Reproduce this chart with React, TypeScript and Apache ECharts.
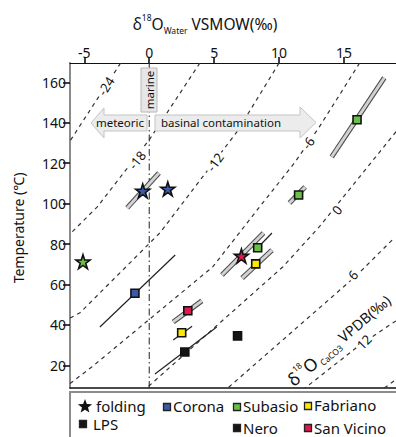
import React, { useEffect, useRef } from 'react';
import * as echarts from 'echarts';

const FONT = "'Noto Sans', sans-serif";

// axes
const xTicks = [-5, 0, 5, 10, 15];
const yTicks = [20, 40, 60, 80, 100, 120, 140, 160];
const xRange = [-6.1, 19.0];
const yRange = [8.8, 169.6];

// d18O calcite (VPDB) isolines: [d18O water, T]
const isoM24 = [[-2.2, 169.6], [-6.1, 131]];
const isoM18 = [[3.9, 169.6], [0, 131.6], [-4.0, 98.4], [-6.1, 85]];
const isoM12 = [[10.0, 169.6], [6.75, 135.5], [2.36, 98.5], [0.83, 85.6], [-5.33, 46], [-6.1, 43.4]];
const isoM6 = [[16.2, 169.6], [13.1, 138], [11.2, 120.3], [8.74, 100.4], [4.9, 68.8], [-4.4, 19.3], [-6.1, 11]];
const iso0 = [[19.0, 135.6], [13.1, 88.6], [10.3, 68.8], [-0.2, 8.8]];
const iso6 = [[18.7, 82], [16.0, 64.7], [6.05, 8.8]];
const iso12 = [[19.0, 42], [16.2, 30], [12.0, 8.8]];
const iso18 = [[18.1, 8.8], [19.0, 13]];
const isoLabels = ['-24', '-18', '-12', '-6', '0', '6', '12'];

const marineLine = [[0, 8.8], [0, 169.6]];

// error ranges (grey bands)
const bandBlueStar = [[-1.7, 97.9], [0.75, 115.2]];
const bandSubasio141 = [[14.05, 123.2], [18.1, 162.3]];
const bandRedStar = [[5.6, 64.7], [8.8, 85.5]];
const bandFabriano70 = [[7.15, 63.2], [9.45, 77.0]];
const bandSanVicino47 = [[1.85, 41.5], [4.05, 51.9]];
const bandSubasio104 = [[10.8, 100.3], [12.0, 108.2]];
// error ranges (thin lines)
const barCorona = [[-3.8, 39], [2.0, 74.6]];
const barFabriano36 = [[1.85, 32.5], [3.3, 39.4]];
const barNero27 = [[0.44, 15.7], [5.2, 39]];
const barSubasio78 = [[8.35, 78.2], [9.45, 85.5]];

// points
const foldingPts = [[-5.1, 71.3], [-0.5, 106.3], [1.43, 107.3], [7.1, 74.1]];
const foldingColors = ['#6abf45', '#3d5aa8', '#3d5aa8', '#e3174f'];
const coronaPts = [[-1.1, 55.7]];
const subasioPts = [[16.0, 141.5], [11.5, 104.3], [8.35, 78.2]];
const fabrianoPts = [[8.2, 70.2], [2.5, 36.1]];
const sanVicinoPts = [[2.97, 47]];
const neroPts = [[2.74, 26.6], [6.8, 34.6]];

const legendNames = ['folding', 'LPS', 'Corona', 'Subasio', 'Fabriano', 'Nero', 'San Vicino'];

const COL = {
  corona: '#3d5aa8',
  subasio: '#6abf45',
  fabriano: '#ffe800',
  sanVicino: '#e3174f',
  nero: '#151515',
};

const STAR = 'path://M50,0 L61.8,35.1 L98.9,35.1 L69.1,56.7 L80.9,91.9 L50,70.3 L19.1,91.9 L30.9,56.7 L1.1,35.1 L38.2,35.1 Z';

function starPoints(cx: number, cy: number, r: number) {
  const pts: number[][] = [];
  for (let i = 0; i < 10; i++) {
    const rr = i % 2 === 0 ? r : r * 0.42;
    const a = -Math.PI / 2 + (i * Math.PI) / 5;
    pts.push([cx + rr * Math.cos(a), cy + rr * Math.sin(a)]);
  }
  return pts;
}

export default function App() {
  const ref = useRef<HTMLDivElement>(null);
  useEffect(() => {
    if (!ref.current) return;
    const chart = echarts.init(ref.current, null, { renderer: 'svg' });

    const isoData = [isoM24, isoM18, isoM12, isoM6, iso0, iso6, iso12, iso18];
    const isoSeries = isoData.map((d, i) => ({
      type: 'line',
      name: 'iso' + i,
      data: d,
      showSymbol: false,
      silent: true,
      lineStyle: { color: '#333', width: 1.2, type: [4, 4] },
      z: 1,
    }));

    const bands = [bandBlueStar, bandSubasio141, bandRedStar, bandFabriano70, bandSanVicino47, bandSubasio104];
    const bandSeries: any[] = [];
    bands.forEach((d) => {
      bandSeries.push({
        type: 'line', data: d, showSymbol: false, silent: true,
        lineStyle: { color: '#4a4a4a', width: 5, cap: 'butt' }, z: 2,
      });
      bandSeries.push({
        type: 'line', data: d, showSymbol: false, silent: true,
        lineStyle: { color: '#d2d2d2', width: 3, cap: 'butt' }, z: 2,
      });
    });
    const bars = [barCorona, barFabriano36, barNero27, barSubasio78];
    const barSeries = bars.map((d) => ({
      type: 'line', data: d, showSymbol: false, silent: true,
      lineStyle: { color: '#222', width: 1.2 }, z: 2,
    }));

    const sq = (name: string, data: number[][], color: string) => ({
      type: 'scatter', name, data, symbol: 'rect', symbolSize: 8,
      itemStyle: { color, borderColor: '#111', borderWidth: 1.6, opacity: 1 }, z: 5,
    });

    const isoLabelPos = [
      [106, 86, 1.0], [137, 160, 0.9], [215, 162, 0.95], [308, 143, 0.95],
      [337, 210, 0.9], [353, 275, 0.85], [364, 342, 0.8],
    ];

    const legendSq = (cx: number, cy: number, color: string) => ({
      type: 'rect', z: 100,
      shape: { x: cx - 3.5, y: cy - 3.5, width: 7, height: 7 },
      style: { fill: color, stroke: '#222', lineWidth: 1.3 },
    });
    const legendTxt = (x: number, y: number, t: string) => ({
      type: 'text', z: 100, x, y,
      style: { text: t, fontSize: 15, fontFamily: FONT, fill: '#111', verticalAlign: 'middle', align: 'left' },
    });

    const graphic: any[] = [
      // title
      {
        type: 'text', z: 100, x: 205, y: 24,
        style: {
          text: '{a|δ}{s|18}{a|O}{b|Water}{a| VSMOW(‰)}',
          align: 'center', verticalAlign: 'middle', fontFamily: FONT, fill: '#111',
          rich: {
            a: { fontSize: 15.5, fontFamily: FONT, fill: '#111', lineHeight: 22 },
            s: { fontSize: 8.5, fontFamily: FONT, fill: '#111', verticalAlign: 'top', lineHeight: 22, padding: [0, 0, 6, 0] },
            b: { fontSize: 8.5, fontFamily: FONT, fill: '#111', verticalAlign: 'bottom', lineHeight: 22, padding: [8, 0, 0, 0] },
          },
        },
      },
      // y axis name
      {
        type: 'text', z: 100, x: 18, y: 228, rotation: Math.PI / 2,
        style: { text: 'Temperature (℃)', fontSize: 14, fontFamily: FONT, fill: '#111', align: 'center', verticalAlign: 'middle' },
      },
      // marine box
      {
        type: 'rect', z: 100, shape: { x: 141, y: 68, width: 16, height: 44 },
        style: { fill: '#e6e6e6', stroke: '#b8b8b8', lineWidth: 1 },
      },
      {
        type: 'text', z: 101, x: 149, y: 90, rotation: Math.PI / 2,
        style: { text: 'marine', fontSize: 11.5, fontFamily: FONT, fill: '#111', align: 'center', verticalAlign: 'middle' },
      },
      // arrows
      {
        type: 'polygon', z: 100,
        shape: { points: [[91, 123], [104, 108], [104, 115], [147, 115], [147, 131], [104, 131], [104, 138]] },
        style: { fill: '#ececec', stroke: '#c4c4c4', lineWidth: 1 },
      },
      {
        type: 'polygon', z: 100,
        shape: { points: [[155, 115], [300, 115], [300, 107], [316, 122.5], [300, 138], [300, 131], [155, 131]] },
        style: { fill: '#ececec', stroke: '#c4c4c4', lineWidth: 1 },
      },
      {
        type: 'text', z: 101, x: 120, y: 122,
        style: { text: 'meteoric', fontSize: 11.5, fontFamily: FONT, fill: '#111', align: 'center', verticalAlign: 'middle' },
      },
      {
        type: 'text', z: 101, x: 221, y: 122.5,
        style: { text: 'basinal contamination', fontSize: 11.5, fontFamily: FONT, fill: '#111', align: 'center', verticalAlign: 'middle' },
      },
      // isoline labels
      ...isoLabels.map((t, i) => ({
        type: 'text', z: 90, x: isoLabelPos[i][0], y: isoLabelPos[i][1], rotation: isoLabelPos[i][2],
        style: {
          text: t, fontSize: 13, fontFamily: FONT, fill: '#111', align: 'center', verticalAlign: 'middle',
          backgroundColor: '#fff', padding: [0, 2],
        },
      })),
      // calcite label
      {
        type: 'text', z: 90, x: 339, y: 340, rotation: 0.7,
        style: {
          text: '{a|δ}{s|18}{a|O}{b| CaCO3}{c| VPDB(‰)}',
          align: 'center', verticalAlign: 'middle', fontFamily: FONT, fill: '#111',
          rich: {
            a: { fontSize: 17.5, fontFamily: FONT, fill: '#111', lineHeight: 22 },
            c: { fontSize: 14.5, fontFamily: FONT, fill: '#111', lineHeight: 22 },
            s: { fontSize: 8.5, fontFamily: FONT, fill: '#111', verticalAlign: 'top', lineHeight: 22, padding: [0, 0, 7, 0] },
            b: { fontSize: 8.5, fontFamily: FONT, fill: '#111', verticalAlign: 'bottom', lineHeight: 22, padding: [7, 0, 0, 0] },
          },
        },
      },
      // legend
      {
        type: 'rect', z: 100, shape: { x: 70, y: 392, width: 340, height: 60 },
        style: { fill: 'none', stroke: '#8c8c8c', lineWidth: 2 },
      },
      { type: 'polygon', z: 100, shape: { points: starPoints(85, 406.5, 7.5) }, style: { fill: '#111' } },
      legendTxt(96, 406, legendNames[0]),
      legendSq(83, 424, COL.nero),
      legendTxt(93, 424, legendNames[1]),
      legendSq(167, 407, COL.corona),
      legendTxt(173, 406, legendNames[2]),
      legendSq(237, 407, COL.subasio),
      legendTxt(243, 406, legendNames[3]),
      legendSq(308, 406, COL.fabriano),
      legendTxt(314, 405, legendNames[4]),
      legendSq(237, 428, COL.nero),
      legendTxt(243, 428, legendNames[5]),
      legendSq(308, 428, COL.sanVicino),
      legendTxt(314, 428, legendNames[6]),
    ];

    const option: any = {
      animation: false,
      backgroundColor: '#fff',
      grid: { left: 70, right: 0, top: 63, bottom: 49, containLabel: false },
      xAxis: [
        {
          type: 'value', position: 'top', min: xRange[0], max: xRange[1],
          axisLine: { show: true, onZero: false, lineStyle: { color: '#111', width: 1.2 } },
          axisTick: { show: true, length: 6, customValues: xTicks, lineStyle: { color: '#111', width: 1.6 } },
          axisLabel: { customValues: xTicks, fontSize: 14, fontFamily: FONT, color: '#111', margin: 4 },
          splitLine: { show: false },
        },
        {
          type: 'value', position: 'bottom', min: xRange[0], max: xRange[1],
          axisLine: { show: true, onZero: false, lineStyle: { color: '#111', width: 1.5 } },
          axisTick: { show: false }, axisLabel: { show: false }, splitLine: { show: false },
        },
      ],
      yAxis: {
        type: 'value', min: yRange[0], max: yRange[1],
        axisLine: { show: true, onZero: false, lineStyle: { color: '#8a8a8a', width: 2 } },
        axisTick: { show: true, length: 7, customValues: yTicks, lineStyle: { color: '#111', width: 1.6 } },
        axisLabel: { customValues: yTicks, fontSize: 14, fontFamily: FONT, color: '#111', margin: 4 },
        splitLine: { show: false },
      },
      series: [
        ...isoSeries,
        {
          type: 'line', data: marineLine, showSymbol: false, silent: true,
          lineStyle: { color: '#222', width: 1, type: [7, 3, 1.5, 3] }, z: 1,
        },
        ...bandSeries,
        ...barSeries,
        {
          type: 'scatter', name: 'folding', symbol: STAR, symbolSize: 14,
          data: foldingPts.map((p, i) => ({ value: p, itemStyle: { color: foldingColors[i] } })),
          itemStyle: { borderColor: '#111', borderWidth: 1.6, opacity: 1 }, z: 6,
        },
        sq('Corona', coronaPts, COL.corona),
        sq('Subasio', subasioPts, COL.subasio),
        sq('Fabriano', fabrianoPts, COL.fabriano),
        sq('San Vicino', sanVicinoPts, COL.sanVicino),
        sq('Nero', neroPts, COL.nero),
      ],
      graphic,
    };
    chart.setOption(option);
    return () => chart.dispose();
  }, []);

  return <div ref={ref} style={{ position: 'absolute', left: 0, top: 0, width: 396, height: 437 }} />;
}
